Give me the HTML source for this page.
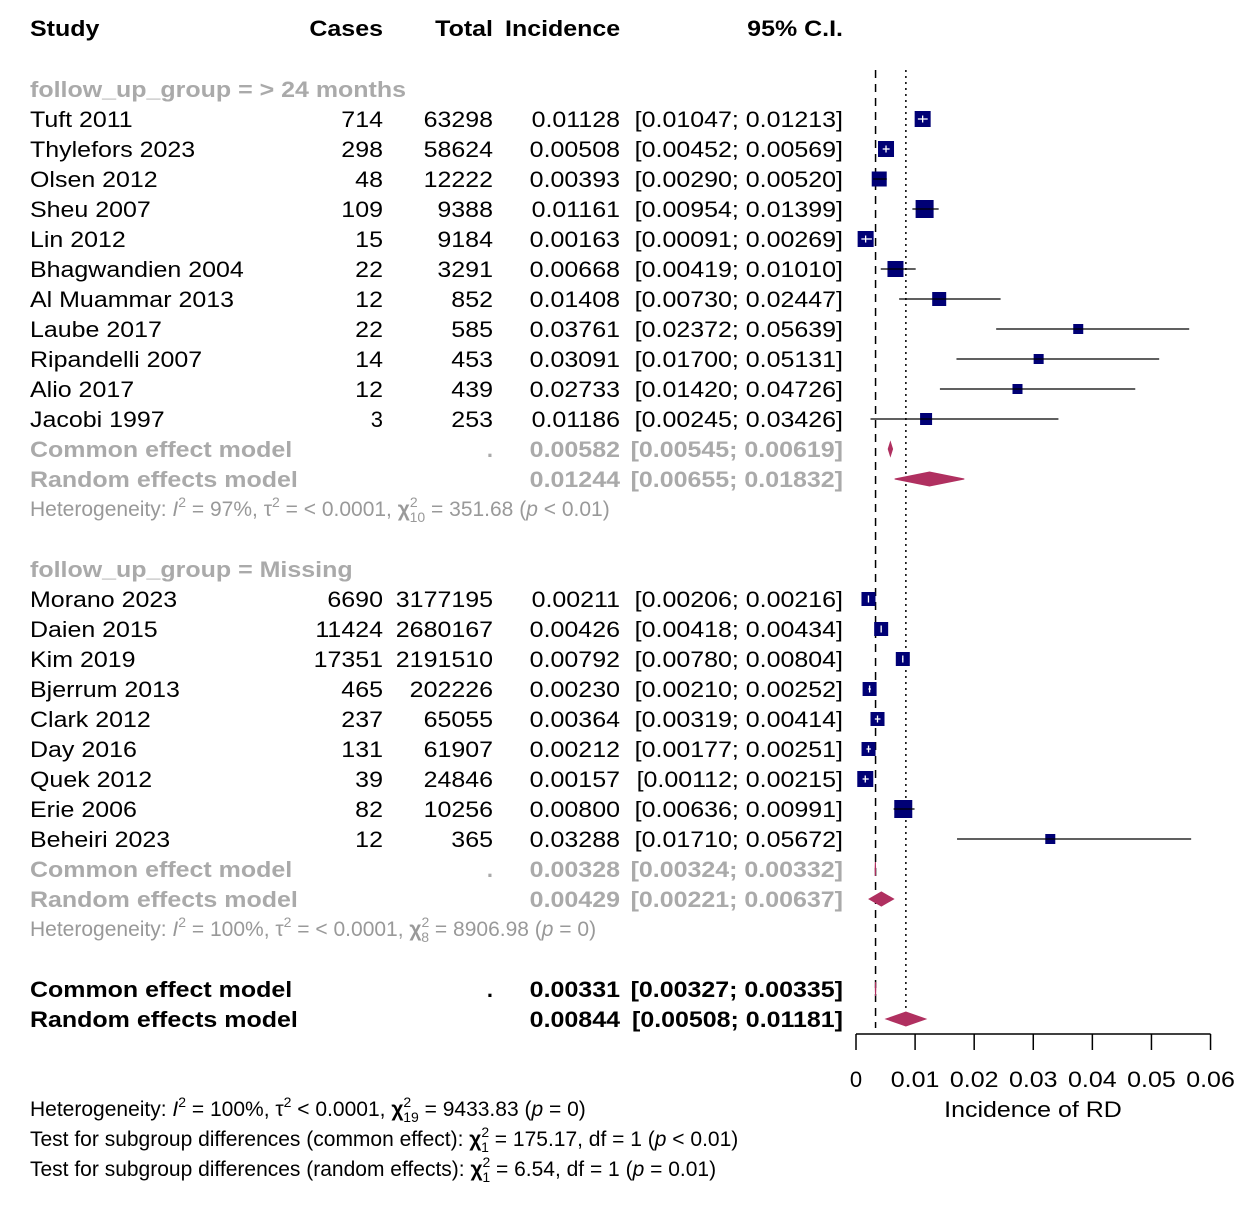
<!DOCTYPE html>
<html><head><meta charset="utf-8"><style>
body{margin:0;background:#fff}
svg{display:block;font-family:"Liberation Sans",sans-serif}
</style></head><body>
<svg id="chart" width="1240" height="1209" viewBox="0 0 1240 1209" xmlns="http://www.w3.org/2000/svg"></svg>
<script>
const studies1=["Tuft 2011","Thylefors 2023","Olsen 2012","Sheu 2007","Lin 2012","Bhagwandien 2004","Al Muammar 2013","Laube 2017","Ripandelli 2007","Alio 2017","Jacobi 1997"];
const cases1=[714,298,48,109,15,22,12,22,14,12,3];
const totals1=[63298,58624,12222,9388,9184,3291,852,585,453,439,253];
const est1=[0.01128,0.00508,0.00393,0.01161,0.00163,0.00668,0.01408,0.03761,0.03091,0.02733,0.01186];
const lo1=[0.01047,0.00452,0.00290,0.00954,0.00091,0.00419,0.00730,0.02372,0.01700,0.01420,0.00245];
const hi1=[0.01213,0.00569,0.00520,0.01399,0.00269,0.01010,0.02447,0.05639,0.05131,0.04726,0.03426];
const wt1=[16,16,15,18,16,16,14,10,10,10,12];
const studies2=["Morano 2023","Daien 2015","Kim 2019","Bjerrum 2013","Clark 2012","Day 2016","Quek 2012","Erie 2006","Beheiri 2023"];
const cases2=[6690,11424,17351,465,237,131,39,82,12];
const totals2=[3177195,2680167,2191510,202226,65055,61907,24846,10256,365];
const est2=[0.00211,0.00426,0.00792,0.00230,0.00364,0.00212,0.00157,0.00800,0.03288];
const lo2=[0.00206,0.00418,0.00780,0.00210,0.00319,0.00177,0.00112,0.00636,0.01710];
const hi2=[0.00216,0.00434,0.00804,0.00252,0.00414,0.00251,0.00215,0.00991,0.05672];
const wt2=[14,14,14,14,14,14,16,18,10];
const pooledEst=[0.00582,0.01244,0.00328,0.00429,0.00331,0.00844];
const pooledLo=[0.00545,0.00655,0.00324,0.00221,0.00327,0.00508];
const pooledHi=[0.00619,0.01832,0.00332,0.00637,0.00335,0.01181];
const ticks=[0,0.01,0.02,0.03,0.04,0.05,0.06];
const tickLabels=["0","0.01","0.02","0.03","0.04","0.05","0.06"];

const svg=document.getElementById('chart');
const NS="http://www.w3.org/2000/svg";
const X=v=>856+v*5909;
const STRETCH=1.135;
function el(tag,attrs,name){const e=document.createElementNS(NS,tag);for(const k in attrs)e.setAttribute(k,attrs[k]);


svg.appendChild(e);return e;}
function txt(s,x,y,name,opt={}){const e=el('text',{x:x,y:y,'font-size':opt.fs||22,fill:opt.fill||'#000','font-weight':opt.bold?'bold':'normal','text-anchor':opt.anchor||'start'},name);e.textContent=s;
 if(s.length>1){const w=e.getComputedTextLength();e.setAttribute('textLength',(w*STRETCH).toFixed(1));e.setAttribute('lengthAdjust','spacingAndGlyphs');}
 return e;}
const f5=v=>v.toFixed(5);
txt("Study",30,36,"header-study",{bold:1});
txt("Cases",383,36,"header-cases",{bold:1,anchor:'end'});
txt("Total",493,36,"header-total",{bold:1,anchor:'end'});
txt("Incidence",505,36,"header-incidence",{bold:1});
txt("95% C.I.",843,36,"header-ci",{bold:1,anchor:'end'});
el('line',{x1:X(pooledEst[4]),x2:X(pooledEst[4]),y1:70,y2:1028,stroke:'#000','stroke-width':1.5,'stroke-dasharray':'8,6'},'common-effect-line');
el('line',{x1:X(pooledEst[5]),x2:X(pooledEst[5]),y1:70,y2:1012,stroke:'#000','stroke-width':1.5,'stroke-dasharray':'2,4'},'random-effect-line');
function studyRows(names,cases,totals,est,lo,hi,wt,y0){
 names.forEach((n,i)=>{const y=y0+i*30;
  txt(n,30,y+8,'study-name');
  txt(String(cases[i]),383,y+8,'cases-value',{anchor:'end'});
  txt(String(totals[i]),493,y+8,'total-value',{anchor:'end'});
  txt(f5(est[i]),620,y+8,'incidence-value',{anchor:'end'});
  txt("["+f5(lo[i])+"; "+f5(hi[i])+"]",843,y+8,'ci-value',{anchor:'end'});
  const s=wt[i],c=X(est[i]),l=X(lo[i]),r=X(hi[i]);
  const inside=l>c-s/2&&r<c+s/2;
  el('rect',{x:c-s/2,y:y-s/2,width:s,height:s,fill:'#000075'},'study-square');
  if(inside){
   el('line',{x1:l,x2:r,y1:y,y2:y,stroke:'#fff','stroke-width':1.3},'ci-inner-line');
   el('line',{x1:c,x2:c,y1:y-3.5,y2:y+3.5,stroke:'#fff','stroke-width':1.3},'estimate-tick');
  } else {
   el('line',{x1:l,x2:r,y1:y,y2:y,stroke:'#000','stroke-width':1.3},'ci-line');
  }
 });}
function pooled(label,k,y,gray,dots){
 const o={bold:1,fill:gray?'#aaa':'#000'};
 txt(label,30,y+8,'pooled-label',o);
 if(dots) txt(".",493,y+8,'pooled-dot',Object.assign({anchor:'end'},o));
 txt(f5(pooledEst[k]),620,y+8,'pooled-incidence',Object.assign({anchor:'end'},o));
 txt("["+f5(pooledLo[k])+"; "+f5(pooledHi[k])+"]",843,y+8,'pooled-ci',Object.assign({anchor:'end'},o));
 const l=X(pooledLo[k]),r=X(pooledHi[k]),c=X(pooledEst[k]);
 el('polygon',{points:`${l},${y} ${c},${y-7} ${r},${y} ${c},${y+7}`,fill:'#b03060',stroke:'#b03060','stroke-width':1},'pooled-diamond');
}
function rich(html,y,name,fill){const e=el('text',{x:30,y:y,'font-size':21,fill:fill},name);e.innerHTML=html;}
const sup=s=>`<tspan dy="-9" font-size="14">${s}</tspan>`;
const sub2=(a,b)=>`<tspan dy="-9" font-size="14">${a}</tspan><tspan dx="-8" dy="15" font-size="14">${b}</tspan>`;
txt("follow_up_group = > 24 months",30,97,"group-title-24m",{bold:1,fill:'#aaa'});
studyRows(studies1,cases1,totals1,est1,lo1,hi1,wt1,119);
pooled("Common effect model",0,449,1,1);
pooled("Random effects model",1,479,1,0);
rich('Heterogeneity: <tspan font-style="italic">I</tspan>'+sup(2)+'<tspan dy="9"> = 97%, τ</tspan>'+sup(2)+'<tspan dy="9"> = &lt; 0.0001, <tspan font-weight="bold">χ</tspan></tspan>'+sub2(2,10)+'<tspan dy="-6"> = 351.68 (</tspan><tspan font-style="italic">p</tspan><tspan> &lt; 0.01)</tspan>',516,'heterogeneity-24m','#999');
txt("follow_up_group = Missing",30,577,"group-title-missing",{bold:1,fill:'#aaa'});
studyRows(studies2,cases2,totals2,est2,lo2,hi2,wt2,599);
pooled("Common effect model",2,869,1,1);
pooled("Random effects model",3,899,1,0);
rich('Heterogeneity: <tspan font-style="italic">I</tspan>'+sup(2)+'<tspan dy="9"> = 100%, τ</tspan>'+sup(2)+'<tspan dy="9"> = &lt; 0.0001, <tspan font-weight="bold">χ</tspan></tspan>'+sub2(2,8)+'<tspan dy="-6"> = 8906.98 (</tspan><tspan font-style="italic">p</tspan><tspan> = 0)</tspan>',936,'heterogeneity-missing','#999');
pooled("Common effect model",4,989,0,1);
pooled("Random effects model",5,1019,0,0);
el('line',{x1:X(0),x2:X(0.06),y1:1034,y2:1034,stroke:'#000','stroke-width':1.5},'x-axis-line');
ticks.forEach((t,i)=>{el('line',{x1:X(t),x2:X(t),y1:1034,y2:1050,stroke:'#000','stroke-width':1.5},'x-tick');
 txt(tickLabels[i],X(t),1087,'x-tick-label',{anchor:'middle'});});
txt("Incidence of RD",1033,1117,"x-axis-title",{anchor:'middle'});
rich('Heterogeneity: <tspan font-style="italic">I</tspan>'+sup(2)+'<tspan dy="9"> = 100%, τ</tspan>'+sup(2)+'<tspan dy="9"> &lt; 0.0001, <tspan font-weight="bold">χ</tspan></tspan>'+sub2(2,19)+'<tspan dy="-6"> = 9433.83 (</tspan><tspan font-style="italic">p</tspan><tspan> = 0)</tspan>',1116,'overall-heterogeneity','#000');
rich('Test for subgroup differences (common effect): <tspan font-weight="bold">χ</tspan>'+sub2(2,1)+'<tspan dy="-6"> = 175.17, df = 1 (</tspan><tspan font-style="italic">p</tspan><tspan> &lt; 0.01)</tspan>',1146,'subgroup-test-common','#000');
rich('Test for subgroup differences (random effects): <tspan font-weight="bold">χ</tspan>'+sub2(2,1)+'<tspan dy="-6"> = 6.54, df = 1 (</tspan><tspan font-style="italic">p</tspan><tspan> = 0.01)</tspan>',1176,'subgroup-test-random','#000');
</script>
</body></html>
